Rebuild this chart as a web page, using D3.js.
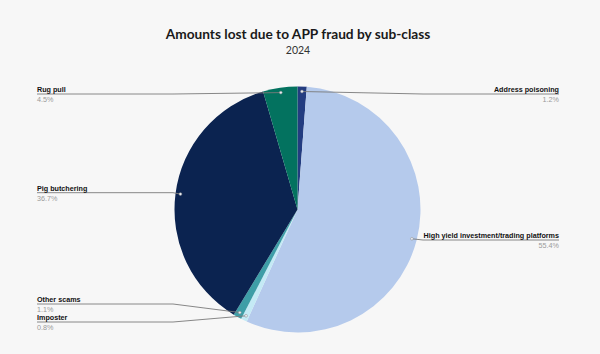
<!DOCTYPE html>
<html>
<head>
<meta charset="utf-8">
<script src="https://cdn.jsdelivr.net/npm/d3@7"></script>
<style>
  html, body { margin: 0; padding: 0; background: #f7f7f7; }
  svg { display: block; }
</style>
</head>
<body>
<script>
// Sub-classes of APP fraud, in slice order (clockwise from 12 o'clock)
const categories = [
  "Address poisoning",
  "High yield investment/trading platforms",
  "Imposter",
  "Other scams",
  "Pig butchering",
  "Rug pull"
];
// Share of amounts lost, percent
const shares = [1.2, 55.4, 0.8, 1.1, 36.7, 4.5];
const sliceColors = ["#233c80", "#b5caec", "#c4eaf5", "#3e9ea7", "#0b2350", "#03725f"];

const W = 600, H = 354;
const cx = 297.5, cy = 209.5, R = 123;

// Where each label sits: side of the chart and the y of its underline
const labelLayout = [
  { side: "right", y: 94 },
  { side: "right", y: 240 },
  { side: "left",  y: 322 },
  { side: "left",  y: 304 },
  { side: "left",  y: 192.7 },
  { side: "left",  y: 94 }
];
const leftX = 37, rightX = 559, leftElbow = 173, rightElbow = 423;

const svg = d3.select("body").append("svg")
  .attr("width", W).attr("height", H);

svg.append("rect").attr("width", W).attr("height", H).attr("fill", "#f7f7f7");

// Title and subtitle
const title = svg.append("text")
  .attr("x", 298).attr("y", 39)
  .attr("text-anchor", "middle")
  .attr("font-family", "Lato, 'Noto Sans', sans-serif")
  .attr("font-weight", 700)
  .attr("font-size", 14)
  .attr("fill", "#1a1a1a")
  .text("Amounts lost due to APP fraud by sub-class");
// fit the title to its line width
const tl = title.node().getComputedTextLength();
title.attr("font-size", 14 * 265 / tl);

svg.append("text")
  .attr("x", 298).attr("y", 53.5)
  .attr("text-anchor", "middle")
  .attr("font-family", "Lato, 'Noto Sans', sans-serif")
  .attr("font-size", 10.5)
  .attr("fill", "#333")
  .text("2024");

const pie = d3.pie().sort(null).value(d => d.value);
const arcs = pie(categories.map((c, i) => ({ name: c, value: shares[i], i })));

const arc = d3.arc().innerRadius(0).outerRadius(R);
const g = svg.append("g").attr("transform", `translate(${cx},${cy})`);

g.selectAll("path.slice")
  .data(arcs)
  .join("path")
  .attr("class", "slice")
  .attr("d", arc)
  .attr("fill", d => sliceColors[d.data.i]);

// Leader lines and labels
const anchorArc = d3.arc().innerRadius(R * 0.96).outerRadius(R * 0.96);

arcs.forEach(d => {
  const i = d.data.i;
  const lay = labelLayout[i];
  const [ax, ay] = anchorArc.centroid(d);
  const px = cx + ax, py = cy + ay;
  const endX = lay.side === "left" ? leftX : rightX;
  let pts;
  if (lay.side === "left") {
    pts = px > leftElbow ? [[px, py], [leftElbow, lay.y], [endX, lay.y]] : [[px, py], [endX, lay.y]];
  } else {
    pts = px < rightElbow ? [[px, py], [rightElbow, lay.y], [endX, lay.y]] : [[px, py], [endX, lay.y]];
  }
  svg.append("path")
    .attr("d", d3.line()(pts))
    .attr("fill", "none")
    .attr("stroke", "#7a7a7a")
    .attr("stroke-width", 0.9);
  svg.append("circle")
    .attr("cx", px).attr("cy", py).attr("r", 1.4)
    .attr("fill", "#e8ecf4")
    .attr("stroke", "#8a8a8a")
    .attr("stroke-width", 0.5);

  const anchor = lay.side === "left" ? "start" : "end";
  svg.append("text")
    .attr("x", endX).attr("y", lay.y - 2.2)
    .attr("text-anchor", anchor)
    .attr("font-family", "'Liberation Sans', Arial, sans-serif")
    .attr("font-weight", 700)
    .attr("font-size", 7.2)
    .attr("fill", "#111")
    .text(d.data.name);
  svg.append("text")
    .attr("x", endX).attr("y", lay.y + 8)
    .attr("text-anchor", anchor)
    .attr("font-family", "'Liberation Sans', Arial, sans-serif")
    .attr("font-size", 7.2)
    .attr("fill", "#9a9a9a")
    .text(d3.format(".1f")(d.data.value) + "%");
});
</script>
</body>
</html>
